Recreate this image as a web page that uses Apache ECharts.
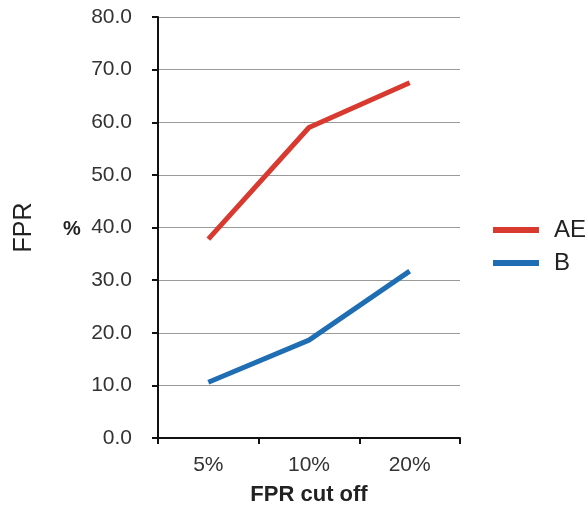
<!DOCTYPE html>
<html>
<head>
<meta charset="utf-8">
<script src="https://cdn.jsdelivr.net/npm/echarts@6/dist/echarts.min.js"></script>
<style>
  html, body { margin: 0; padding: 0; background: #fff; }
  #chart { width: 585px; height: 511px; }
</style>
</head>
<body>
<div id="chart"></div>
<script>
var categories = ['5%', '10%', '20%'];
var aeValues = [37.8, 59.0, 67.5];
var bValues = [10.6, 18.6, 31.7];
var yTicks = { min: 0, max: 80, interval: 10 };

var font = 'Liberation Sans, Arial, sans-serif';
var chart = echarts.init(document.getElementById('chart'));

var option = {
    animation: false,
    backgroundColor: '#fff',
    grid: { left: 158, right: 125, top: 17, bottom: 72 },
    legend: {
        orient: 'vertical',
        left: 493,
        top: 218,
        padding: 0,
        icon: 'rect',
        itemWidth: 46,
        itemHeight: 6,
        itemGap: 9,
        textStyle: { fontFamily: font, fontSize: 24, lineHeight: 24, color: '#222', padding: [0, 0, 0, 10] },
        data: ['AE', 'B']
    },
    xAxis: {
        type: 'category',
        data: categories,
        boundaryGap: true,
        name: 'FPR cut off',
        nameLocation: 'middle',
        nameGap: 46,
        nameTextStyle: { fontFamily: font, fontSize: 22, fontWeight: 'bold', color: '#222' },
        axisLine: { lineStyle: { color: '#111', width: 2 } },
        axisTick: { show: true, length: 6, lineStyle: { color: '#111', width: 2 } },
        axisLabel: { fontFamily: font, fontSize: 21, color: '#333', margin: 17 }
    },
    yAxis: {
        type: 'value',
        min: yTicks.min,
        max: yTicks.max,
        interval: yTicks.interval,
        name: 'FPR',
        nameLocation: 'middle',
        nameRotate: 90,
        nameGap: 121,
        nameTextStyle: { fontFamily: font, fontSize: 25, color: '#222' },
        axisLine: { show: true, lineStyle: { color: '#111', width: 2 } },
        axisTick: { show: true, length: 6, lineStyle: { color: '#111', width: 2 } },
        axisLabel: {
            fontFamily: font, fontSize: 21, color: '#333', margin: 26,
            formatter: function (v) { return v.toFixed(1); }
        },
        splitLine: { show: true, lineStyle: { color: '#9a9a9a', width: 1 } }
    },
    graphic: [{
        type: 'text',
        left: 63,
        top: 219,
        style: { text: '%', fontFamily: font, fontSize: 20, fontWeight: 'bold', fill: '#222' }
    }],
    series: [{
        name: 'AE',
        type: 'line',
        data: aeValues,
        symbol: 'none',
        lineStyle: { color: '#d93a2f', width: 5 },
        itemStyle: { color: '#d93a2f' }
    }, {
        name: 'B',
        type: 'line',
        data: bValues,
        symbol: 'none',
        lineStyle: { color: '#1f6db3', width: 5 },
        itemStyle: { color: '#1f6db3' }
    }]
};
chart.setOption(option);
</script>
</body>
</html>
